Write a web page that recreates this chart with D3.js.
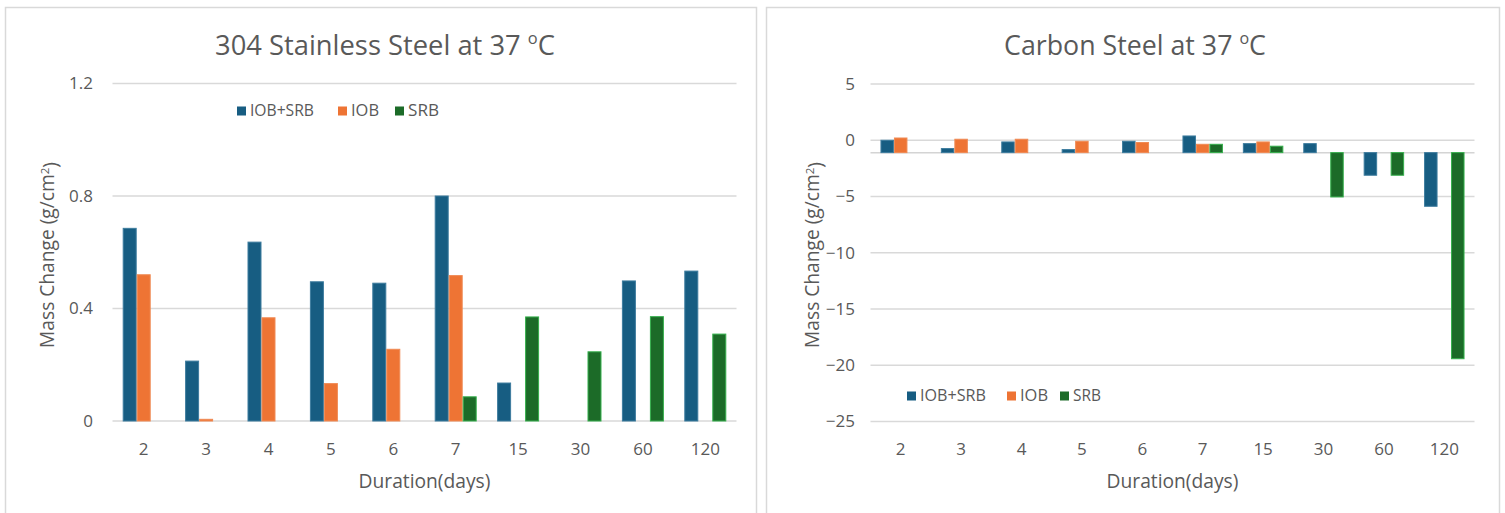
<!DOCTYPE html>
<html>
<head>
<meta charset="utf-8">
<script src="https://cdn.jsdelivr.net/npm/d3@7"></script>
<style>
  html, body { margin: 0; padding: 0; background: #ffffff; }
  svg { display: block; }
  text { font-family: "Open Sans", "Noto Sans", sans-serif; fill: #595959; }
</style>
</head>
<body>
<svg id="chart" width="1505" height="513"></svg>
<script>
// ---------- data ----------
const categories = ["2", "3", "4", "5", "6", "7", "15", "30", "60", "120"];
const seriesNames = ["IOB+SRB", "IOB", "SRB"];
const seriesColors = ["#175d82", "#ee7434", "#1c6b28"];
const seriesEdges  = ["#3d7c9e", "#f08a54", "#35b04c"];

// 304 Stainless Steel at 37 °C
const ssIOBSRB = [0.685, 0.213, 0.636, 0.495, 0.49, 0.80, 0.135, null, 0.498, 0.533];
const ssIOB    = [0.52, 0.006, 0.367, 0.133, 0.255, 0.517, null, null, null, null];
const ssSRB    = [null, null, null, null, null, 0.086, 0.37, 0.246, 0.371, 0.309];
const ssTicks  = [0, 0.4, 0.8, 1.2];

// Carbon Steel at 37 °C
const csIOBSRB = [0.0, -0.74, -0.15, -0.83, -0.09, 0.38, -0.3, -0.3, -3.11, -5.87];
const csIOB    = [0.2, 0.09, 0.09, -0.09, -0.2, -0.36, -0.15, null, null, null];
const csSRB    = [null, null, null, null, null, -0.36, -0.53, -5.04, -3.11, -19.42];
const csTicks  = [5, 0, -5, -10, -15, -20, -25];
const csAxisCross = -1.1;

const svg = d3.select("#chart");

function fitWidth(sel, target) {
  sel.style("font-size", "20px");
  const len = sel.node().getComputedTextLength();
  const fs = 20 * target / len;
  sel.style("font-size", fs + "px");
  return fs;
}

function titleText(g, cx, baseline, main, width) {
  const t = g.append("text").attr("x", cx).attr("y", baseline).attr("text-anchor", "middle");
  t.append("tspan").text(main + " ");
  const sup = t.append("tspan").style("font-size", "0.6em").text("o");
  const c = t.append("tspan").text("C");
  const fs = fitWidth(t, width);
  sup.attr("dy", -0.4 * fs);
  c.attr("dy", 0.4 * fs);
}

function drawChart(cfg) {
  const g = svg.append("g");
  // panel border
  g.append("rect").attr("x", cfg.panel[0]).attr("y", cfg.panel[1])
    .attr("width", cfg.panel[2]).attr("height", cfg.panel[3])
    .attr("fill", "none").attr("stroke", "#d9d9d9").attr("stroke-width", 1.5);

  const x = d3.scaleBand().domain(categories).range(cfg.xRange);
  const bw = x.bandwidth();
  const gw = bw * cfg.groupFrac;
  const x1 = d3.scaleBand().domain(seriesNames).range([(bw - gw) / 2, (bw + gw) / 2]);
  const y = d3.scaleLinear().domain(cfg.yDomain).range(cfg.yRange);

  // gridlines
  g.append("g").selectAll("line").data(cfg.ticks).join("line")
    .attr("x1", cfg.xRange[0]).attr("x2", cfg.xRange[1])
    .attr("y1", d => y(d)).attr("y2", d => y(d))
    .attr("stroke", "#d9d9d9").attr("stroke-width", 1.5);
  if (cfg.base !== 0) {
    g.append("line").attr("x1", cfg.xRange[0]).attr("x2", cfg.xRange[1])
      .attr("y1", y(cfg.base)).attr("y2", y(cfg.base))
      .attr("stroke", "#d4d4d4").attr("stroke-width", 1.5);
  }

  // y axis labels
  const yAxis = d3.axisLeft(y).tickValues(cfg.ticks).tickSize(0).tickPadding(0)
    .tickFormat(cfg.tickFormat);
  const ya = g.append("g").attr("transform", `translate(${cfg.yLabelX},0)`).call(yAxis);
  ya.select(".domain").remove();
  ya.selectAll("text").style("font-size", "17px").style("font-family", null)
    .attr("fill", "#5f5f5f");

  // x axis labels
  const xAxis = d3.axisBottom(x).tickSize(0).tickPadding(0);
  const xa = g.append("g").attr("transform", `translate(0,${cfg.xLabelY})`).call(xAxis);
  xa.select(".domain").remove();
  xa.selectAll("text").style("font-size", "17px").style("font-family", null)
    .attr("fill", "#5f5f5f").attr("dy", "0");

  // bars
  const rows = [];
  categories.forEach((c, i) => {
    cfg.series.forEach((s, j) => {
      if (s[i] !== null) rows.push({ c, s: seriesNames[j], v: s[i], col: seriesColors[j], edge: seriesEdges[j] });
    });
  });
  g.append("g").selectAll("rect").data(rows).join("rect")
    .attr("x", d => x(d.c) + x1(d.s) + 0.5)
    .attr("width", x1.bandwidth() - 1)
    .attr("y", d => Math.min(y(d.v), y(cfg.base)))
    .attr("height", d => Math.abs(y(d.v) - y(cfg.base)))
    .attr("fill", d => d.col)
    .attr("stroke", d => d.edge).attr("stroke-width", 1);

  // title
  titleText(g, cfg.titleX, 55, cfg.title, cfg.titleW);

  // legend
  const lg = g.append("g");
  let lx = cfg.legend[0];
  seriesNames.forEach((n, j) => {
    lg.append("rect").attr("x", lx).attr("y", cfg.legend[1] - 4.5)
      .attr("width", 9).attr("height", 9).attr("fill", seriesColors[j]);
    const t = lg.append("text").attr("x", lx + 13).attr("y", cfg.legend[1] + 5).text(n);
    fitWidth(t, cfg.legendW[j]);
    lx += cfg.legendStep[j];
  });

  // axis titles
  const xt = g.append("text").attr("x", (cfg.xRange[0] + cfg.xRange[1]) / 2)
    .attr("y", 488).attr("text-anchor", "middle").text("Duration(days)");
  fitWidth(xt, 132);

  const yt = g.append("text")
    .attr("transform", `translate(${cfg.yTitleX},255) rotate(-90)`)
    .attr("text-anchor", "middle").attr("dy", "0.35em");
  yt.append("tspan").text("Mass Change (g/cm");
  yt.append("tspan").attr("dy", "-0.45em").style("font-size", "0.6em").text("2");
  yt.append("tspan").attr("dy", "0.45em").text(")");
  fitWidth(yt, 186);
}

drawChart({
  panel: [5.5, 7.5, 751, 530],
  xRange: [112.5, 736.5],
  groupFrac: 0.673,
  yDomain: [0, 1.2],
  yRange: [421, 83.5],
  ticks: ssTicks,
  base: 0,
  tickFormat: d3.format("~g"),
  yLabelX: 93,
  xLabelY: 455,
  series: [ssIOBSRB, ssIOB, ssSRB],
  title: "304 Stainless Steel at 37",
  titleX: 385,
  titleW: 340,
  legend: [237, 111],
  legendW: [64, 28, 31],
  legendStep: [101, 57, 60],
  yTitleX: 47
});

drawChart({
  panel: [766.5, 7.5, 733, 530],
  xRange: [870.5, 1474.5],
  groupFrac: 0.67,
  yDomain: [-25, 5],
  yRange: [421.5, 84],
  ticks: csTicks,
  base: csAxisCross,
  tickFormat: d3.format("~g"),
  yLabelX: 855,
  xLabelY: 455,
  series: [csIOBSRB, csIOB, csSRB],
  title: "Carbon Steel at 37",
  titleX: 1135,
  titleW: 262,
  legend: [907, 396],
  legendW: [66, 28, 28],
  legendStep: [100, 53, 60],
  yTitleX: 812
});
</script>
</body>
</html>
